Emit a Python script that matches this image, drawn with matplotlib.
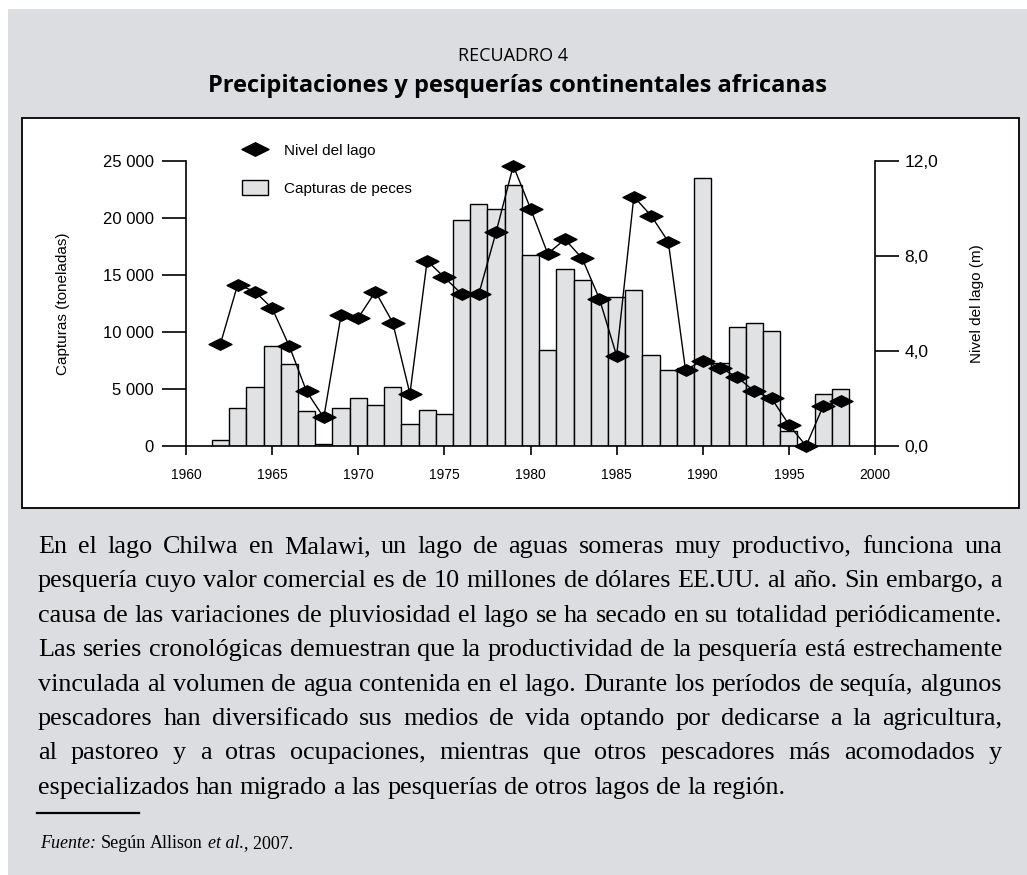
import matplotlib
matplotlib.use("Agg")
import matplotlib.pyplot as plt
from matplotlib.path import Path
from matplotlib.patches import Rectangle, Patch
from matplotlib.lines import Line2D

plt.rcParams['font.family'] = ['Liberation Sans', 'DejaVu Sans']

# datos
years = list(range(1962, 1999))
capturas = [550, 3300, 5200, 8800, 7200, 3100, 150, 3300, 4200, 3600, 5200, 1900, 3150, 2800,
            19800, 21200, 20800, 22900, 16750, 8400, 15550, 14600, 13100, 13050, 13700, 8000,
            6700, 6800, 23500, 7300, 10400, 10800, 10100, 1300, 0, 4550, 5000]
nivel = [4.3, 6.8, 6.5, 5.8, 4.2, 2.3, 1.2, 5.5, 5.4, 6.5, 5.2, 2.2, 7.8, 7.1, 6.4, 6.4,
         9.0, 11.8, 10.0, 8.1, 8.7, 7.9, 6.2, 3.8, 10.5, 9.7, 8.6, 3.2, 3.6, 3.3, 2.9,
         2.3, 2.0, 0.9, 0.0, 1.7, 1.9]

xticks = list(range(1960, 2001, 5))
yticks_left = [0, 5000, 10000, 15000, 20000, 25000]
ylabels_left = ["0", "5 000", "10 000", "15 000", "20 000", "25 000"]
yticks_right = [0, 4, 8, 12]
ylabels_right = ["0,0", "4,0", "8,0", "12,0"]

texto = [
    "En el lago Chilwa en Malawi, un lago de aguas someras muy productivo, funciona una",
    "pesquería cuyo valor comercial es de 10 millones de dólares EE.UU. al año. Sin embargo, a",
    "causa de las variaciones de pluviosidad el lago se ha secado en su totalidad periódicamente.",
    "Las series cronológicas demuestran que la productividad de la pesquería está estrechamente",
    "vinculada al volumen de agua contenida en el lago. Durante los períodos de sequía, algunos",
    "pescadores han diversificado sus medios de vida optando por dedicarse a la agricultura,",
    "al pastoreo y a otras ocupaciones, mientras que otros pescadores más acomodados y",
    "especializados han migrado a las pesquerías de otros lagos de la región.",
]
fuente = [("Fuente:", "italic", False), ("Según", "normal", True), ("Allison", "normal", True),
          ("et al.", "italic", True), (", 2007.", "normal", False)]

W, H = 1027, 875
BG = '#dcdde0'


def fx(px):
    return px / W


def fy(py):
    return 1 - py / H


fig = plt.figure(figsize=(W / 100, H / 100), dpi=100)
fig.patch.set_facecolor('white')
fig.patches.append(Rectangle((fx(8), 0), 1 - fx(8), fy(9), transform=fig.transFigure,
                             facecolor=BG, edgecolor='none', zorder=-3))
fig.patches.append(Rectangle((fx(22), fy(508)), fx(1019) - fx(22), fy(118) - fy(508),
                             transform=fig.transFigure, facecolor='white',
                             edgecolor='black', linewidth=1.3, zorder=-2))

title_font = ['Open Sans', 'DejaVu Sans']
fig.text(fx(513), fy(61), "RECUADRO 4", ha='center', va='baseline', fontsize=13,
         family=title_font)
fig.text(fx(518), fy(92), "Precipitaciones y pesquerías continentales africanas",
         ha='center', va='baseline', fontsize=17, weight='bold', family=title_font)

# grafico
ax = fig.add_axes([fx(186), fy(446), fx(875) - fx(186), fy(161) - fy(446)])
ax.patch.set_alpha(0)
ax.bar(years, capturas, width=1.0, color='#e1e2e4', edgecolor='black', linewidth=1.0, zorder=2)
ax.set_xlim(1960, 2000)
ax.set_ylim(0, 25000)
ax.set_xticks(xticks)
ax.set_yticks(yticks_left)
ax.set_yticklabels(ylabels_left)
for s in ['top', 'right']:
    ax.spines[s].set_visible(False)
for s in ['left', 'bottom']:
    ax.spines[s].set_linewidth(1.2)
ax.tick_params(axis='y', direction='out', length=17, width=1.2, pad=6, labelsize=12)
ax.tick_params(axis='x', direction='out', length=6.5, width=1.2, pad=9, labelsize=10)
ax.set_ylabel("Capturas (toneladas)", fontsize=11, va='center')
ax.yaxis.set_label_coords((63 - 186) / 689, 0.5)

diamond = Path([(-1, 0), (0, 0.5), (1, 0), (0, -0.5), (-1, 0)],
               [Path.MOVETO, Path.LINETO, Path.LINETO, Path.LINETO, Path.CLOSEPOLY])

ax2 = ax.twinx()
ax2.plot(years, nivel, color='black', linewidth=1.0, marker=diamond, markersize=16.5,
         markerfacecolor='black', markeredgecolor='black', clip_on=False, zorder=3)
ax2.set_ylim(0, 12)
ax2.set_yticks(yticks_right)
ax2.set_yticklabels(ylabels_right)
for s in ['top', 'left', 'bottom']:
    ax2.spines[s].set_visible(False)
ax2.spines['right'].set_linewidth(1.2)
ax2.tick_params(axis='y', direction='out', length=17, width=1.2, pad=4, labelsize=12.5)
ax2.set_ylabel("Nivel del lago (m)", fontsize=11, va='center', rotation=90)
ax2.yaxis.set_label_coords((977 - 186) / 689, 0.5)

handles = [Line2D([], [], linestyle='none', marker=diamond, markersize=19.5, color='black'),
           Patch(facecolor='#e1e2e4', edgecolor='black', linewidth=1.0)]
ax2.legend(handles, ["Nivel del lago", "Capturas de peces"], loc='upper left',
           bbox_to_anchor=(fx(242), fy(143)), bbox_transform=fig.transFigure,
           frameon=False, fontsize=11, borderpad=0, borderaxespad=0,
           handlelength=1.7, handleheight=1.05, handletextpad=1.05, labelspacing=1.45)

# texto justificado
r = fig.canvas.get_renderer()
serif = ['Liberation Serif', 'DejaVu Serif']


def width(s, size, style='normal'):
    t = fig.text(0, 0, s, fontsize=size, family=serif, style=style)
    w = t.get_window_extent(r).width
    t.remove()
    return w


x0, x1 = 38, 1002
base = 10
sp = width("x x", base) - width("xx", base)
nat = max(sum(width(w, base) for w in l.split()) + sp * (len(l.split()) - 1) for l in texto)
size = base * (x1 - x0) / nat * 0.995
sp = width("x x", size) - width("xx", size)

for i, line in enumerate(texto):
    words = line.split()
    arts = [fig.text(0, fy(553 + i * 34.4), w, fontsize=size, family=serif, va='baseline')
            for w in words]
    ws = [a.get_window_extent(r).width for a in arts]
    gap = sp if i == len(texto) - 1 else ((x1 - x0) - sum(ws)) / (len(words) - 1)
    x = x0
    for a, w in zip(arts, ws):
        a.set_x(fx(x))
        x += w + gap

fig.add_artist(Line2D([fx(37), fx(139)], [fy(813), fy(813)], color='black', linewidth=1.6))

fsize = 13
x = 40
for txt, style, space in fuente:
    if space:
        x += width("x x", fsize) - width("xx", fsize)
    t = fig.text(fx(x), fy(848), txt, fontsize=fsize, family=serif, style=style, va='baseline')
    x += t.get_window_extent(r).width

fig.savefig("out.png", dpi=100, facecolor=fig.get_facecolor())
